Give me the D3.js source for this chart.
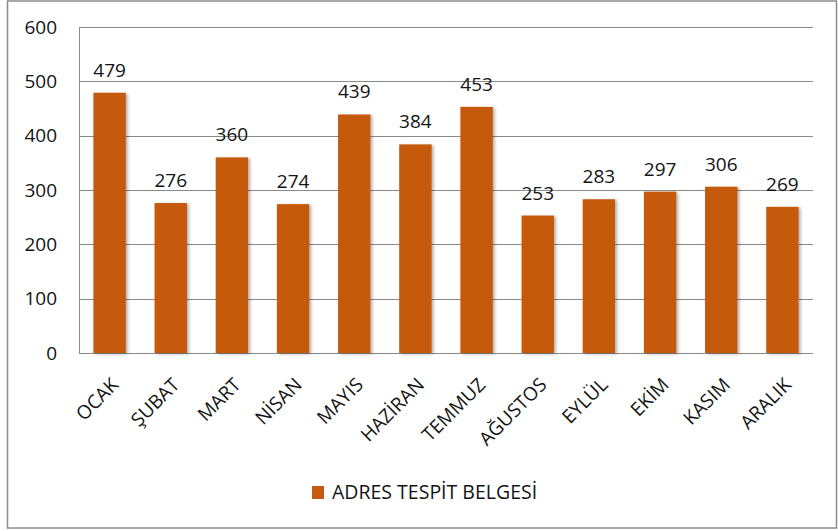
<!DOCTYPE html>
<html>
<head>
<meta charset="utf-8">
<script src="https://cdn.jsdelivr.net/npm/d3@7"></script>
<style>
  body { margin: 0; background: #fff; }
  svg text { font-family: "Open Sans", "Noto Sans", sans-serif; fill: #141414; }
</style>
</head>
<body>
<div id="root"></div>
<script>
const months = ["OCAK", "ŞUBAT", "MART", "NİSAN", "MAYIS", "HAZİRAN", "TEMMUZ", "AĞUSTOS", "EYLÜL", "EKİM", "KASIM", "ARALIK"]
const values = [479, 276, 360, 274, 439, 384, 453, 253, 283, 297, 306, 269]
const yTicks = [0, 100, 200, 300, 400, 500, 600]
const seriesName = "ADRES TESPİT BELGESİ"

const w = 838, h = 531
const barColor = "#c55a11"
const plot = {left: 79, right: 813, top: 27, bottom: 353}

const svg = d3.select("#root").append("svg")
    .attr("width", w)
    .attr("height", h)

// outer frame
svg.append("rect")
    .attr("x", 7.5).attr("y", 1)
    .attr("width", 829).attr("height", 527)
    .attr("fill", "#fff")
    .attr("stroke", "#8c8c8c")
    .attr("stroke-width", 1.5)

const x = d3.scaleBand()
    .domain(months)
    .range([plot.left, plot.right])
    .paddingInner(0.47)
    .paddingOuter(0.235)

const y = d3.scaleLinear()
    .domain([0, 600])
    .range([plot.bottom, plot.top])

// gridlines
svg.append("g")
    .selectAll("line")
    .data(yTicks)
    .join("line")
    .attr("x1", plot.left).attr("x2", plot.right)
    .attr("y1", d => Math.round(y(d)) + 0.5)
    .attr("y2", d => Math.round(y(d)) + 0.5)
    .attr("stroke", "#8a8a8a")
    .attr("stroke-width", 1)

// left axis line
svg.append("line")
    .attr("x1", plot.left + 0.5).attr("x2", plot.left + 0.5)
    .attr("y1", plot.top).attr("y2", plot.bottom)
    .attr("stroke", "#8a8a8a")

// y tick labels
svg.append("g")
    .selectAll("text")
    .data(yTicks)
    .join("text")
    .attr("x", 57)
    .attr("y", d => y(d) + 6.5)
    .attr("text-anchor", "end")
    .attr("font-size", 19)
    .text(d => d)

// bar shadows
const defs = svg.append("defs")
const f = defs.append("filter").attr("id", "shadow")
    .attr("x", "-20%").attr("y", "-10%").attr("width", "150%").attr("height", "130%")
f.append("feDropShadow")
    .attr("dx", 2).attr("dy", 1).attr("stdDeviation", 1.5)
    .attr("flood-color", "#000").attr("flood-opacity", 0.3)

svg.append("g")
    .selectAll("rect")
    .data(months)
    .join("rect")
    .attr("x", d => x(d))
    .attr("y", (d, i) => y(values[i]))
    .attr("width", x.bandwidth())
    .attr("height", (d, i) => y(0) - y(values[i]))
    .attr("fill", barColor)
    .attr("filter", "url(#shadow)")

// value labels
svg.append("g")
    .selectAll("text")
    .data(months)
    .join("text")
    .attr("x", d => x(d) + x.bandwidth() / 2)
    .attr("y", (d, i) => y(values[i]) - 16)
    .attr("text-anchor", "middle")
    .attr("font-size", 19)
    .text((d, i) => values[i])

// x labels
svg.append("g")
    .selectAll("text")
    .data(months)
    .join("text")
    .attr("text-anchor", "end")
    .attr("font-size", 19)
    .attr("transform", d => `translate(${x(d) + x.bandwidth() / 2 + 10},${plot.bottom + 33}) rotate(-45)`)
    .text(d => d)

// legend
const lg = svg.append("g").attr("transform", "translate(312,486)")
lg.append("rect")
    .attr("width", 12).attr("height", 13)
    .attr("fill", barColor)
lg.append("text")
    .attr("x", 20).attr("y", 13)
    .attr("font-size", 19.5)
    .text(seriesName)
</script>
</body>
</html>
